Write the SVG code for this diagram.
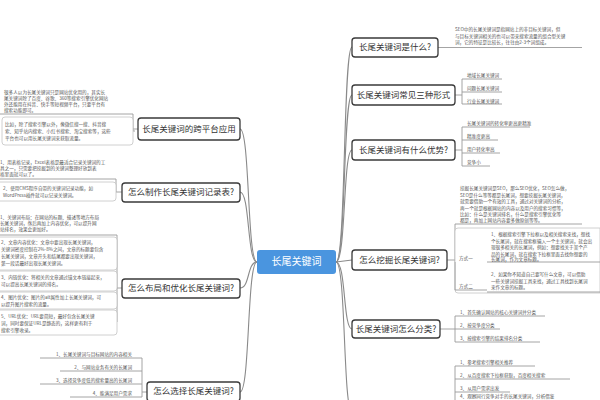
<svg xmlns="http://www.w3.org/2000/svg" width="600" height="400" viewBox="0 0 600 400">
<style>
text{font-family:"Noto Sans CJK SC","Noto Sans",sans-serif}
.node{fill:#fff;stroke:#3a3a3a;stroke-width:1.3}
.nt{font-size:8.5px;fill:#333;text-anchor:middle;dominant-baseline:middle}
.tiny{font-size:4.6px;fill:#555}
.ln{fill:none;stroke:#9a9a9a;stroke-width:0.9}
.trunk{fill:none;stroke:#8a8a8a;stroke-width:1.1}
.box{fill:#fff;stroke:#c4c4c4;stroke-width:0.8}
.title{font-size:20px;font-weight:bold;fill:#2a2a2a}
</style>
<rect width="600" height="400" fill="#fff"/>
<text class="title" x="322" y="-2">长尾关键词优化技巧大全思维导图</text>

<g id="connectors">
  <path class="trunk" d="M336,262 C346,262 343,47 352,47"/>
  <path class="trunk" d="M336,262 C346,262 343,95 352,95"/>
  <path class="trunk" d="M336,262 C346,262 343,150 352,150"/>
  <path class="trunk" d="M336,262 L352,260"/>
  <path class="trunk" d="M336,262 C346,262 343,329 352,329"/>
  <path class="trunk" d="M336,262 C346,262 343,412 352,412"/>
  <path class="trunk" d="M257,262 C247,262 250,129 240,129"/>
  <path class="trunk" d="M257,262 C247,262 250,192 240,192"/>
  <path class="trunk" d="M257,262 C247,262 250,288 240,288"/>
  <path class="trunk" d="M257,262 C247,262 250,392 240,392"/>
  <path class="ln" d="M438,47.5 H582"/>
  <path class="ln" d="M455,95 H462 M462,79 V104 M462,79 H502 M462,92 H502 M462,104 H502"/>
  <path class="ln" d="M455,150 H462 M462,127 V166 M462,127 H530 M462,140 H498 M462,153 H500 M462,166 H490"/>
  <path class="ln" d="M447,260 H455 M455,224 V262 M455,224 H582 M455,262 H487"/>
  <path class="box" d="M458,228 H600 V293 H458 Q455,293 455,290 V231 Q455,228 458,228 Z" fill="none"/>
  <path class="ln" d="M455,262 V290 M455,290 H487 M487,262 H600 M487,292 H600"/>
  <path class="ln" d="M440,329 H455 M455,316 V342 M455,316 H545 M455,329 H500 M455,342 H540"/>
  <path class="ln" d="M455,366 V410 M455,366 H535 M455,379 H570 M455,392 H510"/>
  <path class="ln" d="M138,129 H133 M133,114 V131 M0,114 H133 M133,131 H135"/>
  <path class="ln" d="M122,192 H116 M116,179 V192 M0,179 H116"/>
  <path class="ln" d="M122,288 H117 M117,235 V322 M0,235 H117"/>
  <path class="ln" d="M147,392 H142 M142,358 V397 M40,358 H142 M60,371 H142 M40,384 H142 M70,397 H142"/>
</g>

<g id="center">
  <rect x="257" y="250" width="79" height="24" rx="3" fill="#4a95df"/>
  <text x="296.5" y="262.5" font-size="10" fill="#fff" text-anchor="middle" dominant-baseline="middle">长尾关键词</text>
</g>

<g id="r1">
  <rect class="node" x="352" y="38" width="86" height="19" rx="3"/>
  <text class="nt" x="395" y="48">长尾关键词是什么?</text>
  <text class="tiny" x="455" y="31">SEO中的长尾关键词是指网站上的非目标关键词，但</text>
  <text class="tiny" x="455" y="37.5">与目标关键词相关的也可以带来搜索流量的组合型关键</text>
  <text class="tiny" x="455" y="44">词，它的特征是比较长，往往由2-3个词组成。</text>
</g>

<g id="r2">
  <rect class="node" x="352" y="85" width="103" height="20" rx="3"/>
  <text class="nt" x="403.5" y="95.5">长尾关键词常见三种形式</text>
  <text class="tiny" x="467" y="77">地域长尾关键词</text>
  <text class="tiny" x="467" y="90">问题长尾关键词</text>
  <text class="tiny" x="467" y="102.5">行业长尾关键词</text>
</g>

<g id="r3">
  <rect class="node" x="352" y="140" width="103" height="20" rx="3"/>
  <text class="nt" x="403.5" y="150.5">长尾关键词有什么优势?</text>
  <text class="tiny" x="467" y="125">长尾关键词的转化率更高更精准</text>
  <text class="tiny" x="467" y="138">精准度更高</text>
  <text class="tiny" x="467" y="151">用户转化率高</text>
  <text class="tiny" x="467" y="164">竞争小</text>
</g>

<g id="r4">
  <rect class="node" x="352" y="250" width="95" height="20" rx="3"/>
  <text class="nt" x="399.5" y="260.5">怎么挖掘长尾关键词?</text>
  <text class="tiny" x="460" y="190">挖掘长尾关键词是SEO，那么SEO优化，SEO怎么做，</text>
  <text class="tiny" x="460" y="196.5">SEO是什么等等都是长尾词，想要挖掘长尾关键词，</text>
  <text class="tiny" x="460" y="203">就需要借助一个有效的工具，通过对关键词的分析，</text>
  <text class="tiny" x="460" y="209.5">再一个就是根据网站的内容以及用户的搜索习惯等，</text>
  <text class="tiny" x="460" y="216">比如：什么是关键词排名，什么是搜索引擎优化等</text>
  <text class="tiny" x="460" y="222">都是，再加上网站内容要多做原创等等。</text>
  <text class="tiny" x="459" y="260">方式一</text>
  <text class="tiny" x="459" y="288">方式二</text>
  <text class="tiny" x="491" y="236">1、根据搜索引擎下拉框以及相关搜索来找，想找</text>
  <text class="tiny" x="491" y="242.5">个长尾词，就在搜索框输入一个主关键词，就会出</text>
  <text class="tiny" x="491" y="249">现很多相关的长尾词，例如：想要找关于某个产</text>
  <text class="tiny" x="491" y="255.5">品的长尾词，就在搜索下拉框里面去找你想要的</text>
  <text class="tiny" x="491" y="261">长尾词，作为文章标题。</text>
  <text class="tiny" x="491" y="276">2、如果你不知道自己要写什么文章，可以借助</text>
  <text class="tiny" x="491" y="282.5">一些关键词挖掘工具来找，通过工具找到长尾词</text>
  <text class="tiny" x="491" y="289">来作文章的标题。</text>
</g>

<g id="r5">
  <rect class="node" x="352" y="320" width="88" height="18" rx="3"/>
  <text class="nt" x="396" y="329.5">长尾关键词怎么分类?</text>
  <text class="tiny" x="460" y="314">1、首先确认网站的核心关键词并分类</text>
  <text class="tiny" x="460" y="327">2、按竞争度分类</text>
  <text class="tiny" x="460" y="340">3、按搜索引擎的结果排名分类</text>
</g>

<g id="r6">
  <text class="tiny" x="460" y="364">1、参考搜索引擎相关推荐</text>
  <text class="tiny" x="460" y="377">2、从百度搜索下拉框获取，百度相关搜索</text>
  <text class="tiny" x="460" y="390">3、从用户需求出发</text>
  <text class="tiny" x="460" y="398">4、观察同行竞争对手的长尾关键词，分析借鉴</text>
</g>

<g id="l1">
  <rect class="node" x="138" y="118" width="102" height="22" rx="3"/>
  <text class="nt" x="189" y="129.5">长尾关键词的跨平台应用</text>
  <text class="tiny" x="4" y="94">很多人以为长尾关键词只是网站优化用的，其实长</text>
  <text class="tiny" x="4" y="100">尾关键词除了百度、谷歌、360等搜索引擎优化网站</text>
  <text class="tiny" x="4" y="106">外还能用在抖音、快手等短视频平台，只要平台有</text>
  <text class="tiny" x="4" y="112">搜索功能即可。</text>
  <rect class="box" x="2" y="117" width="131" height="28" rx="3"/>
  <text class="tiny" x="5" y="126">比如，除了搜索引擎以外，像微信搜一搜、抖音搜</text>
  <text class="tiny" x="5" y="133">索、知乎站内搜索、小红书搜索、淘宝搜索等，这些</text>
  <text class="tiny" x="5" y="140">平台也可以用长尾关键词来获取流量。</text>
</g>

<g id="l2">
  <rect class="node" x="122" y="183" width="118" height="19" rx="3"/>
  <text class="nt" x="181" y="193">怎么制作长尾关键词记录表?</text>
  <text class="tiny" x="0" y="164">1、用表格记录，Excel表格是最适合记录关键词的工</text>
  <text class="tiny" x="0" y="170">具之一，只需要把挖掘到的关键词整理好放到表</text>
  <text class="tiny" x="0" y="176">格里面就可以了。</text>
  <rect class="box" x="-3" y="182" width="119" height="19" rx="3"/>
  <text class="tiny" x="3" y="190">2、使用CMS程序自带的关键词记录功能，如</text>
  <text class="tiny" x="3" y="196.5">WordPress插件就可以记录关键词。</text>
</g>

<g id="l3">
  <rect class="node" x="122" y="279" width="118" height="19" rx="3"/>
  <text class="nt" x="181" y="289">怎么布局和优化长尾关键词?</text>
  <text class="tiny" x="0" y="219">1、关键词布局：在网站的标题、描述等地方布局</text>
  <text class="tiny" x="0" y="225">长尾关键词，然后再加上内容优化，可以提升网</text>
  <text class="tiny" x="0" y="231">站排名，效果会更加好。</text>
  <rect class="box" x="-3" y="237" width="120" height="33" rx="3"/>
  <text class="tiny" x="1" y="244">2、文章内容优化：文章中要出现长尾关键词，</text>
  <text class="tiny" x="1" y="251">关键词密度控制在2%-8%之间，文章的标题要包含</text>
  <text class="tiny" x="1" y="258">长尾关键词，文章开头和结尾都要出现关键词，</text>
  <text class="tiny" x="1" y="265">第一段话最好出现长尾关键词。</text>
  <rect class="box" x="-3" y="271" width="120" height="20" rx="3"/>
  <text class="tiny" x="1" y="279">3、内链优化：将相关的文章通过锚文本链接起来，</text>
  <text class="tiny" x="1" y="286">可以提高长尾关键词的排名。</text>
  <rect class="box" x="-3" y="292" width="120" height="17" rx="3"/>
  <text class="tiny" x="1" y="299">4、图片优化：图片的alt属性加上长尾关键词，可</text>
  <text class="tiny" x="1" y="305.5">以提升图片搜索的流量。</text>
  <rect class="box" x="-3" y="310" width="120" height="25" rx="3"/>
  <text class="tiny" x="1" y="318">5、URL优化：URL要简短，最好包含长尾关键</text>
  <text class="tiny" x="1" y="325">词，同时要保证URL是静态的，这样更有利于</text>
  <text class="tiny" x="1" y="332">搜索引擎收录。</text>
</g>

<g id="l4">
  <rect class="node" x="147" y="382" width="93" height="19" rx="3"/>
  <text class="nt" x="193.5" y="391.5">怎么选择长尾关键词?</text>
  <text class="tiny" x="132" y="356" text-anchor="end">1、长尾关键词与目标网站的内容相关</text>
  <text class="tiny" x="132" y="369" text-anchor="end">2、与网站业务有关的长尾词</text>
  <text class="tiny" x="132" y="382" text-anchor="end">3、选择竞争度低的搜索量高的长尾词</text>
  <text class="tiny" x="132" y="395" text-anchor="end">4、能满足用户需求</text>
</g>
</svg>
